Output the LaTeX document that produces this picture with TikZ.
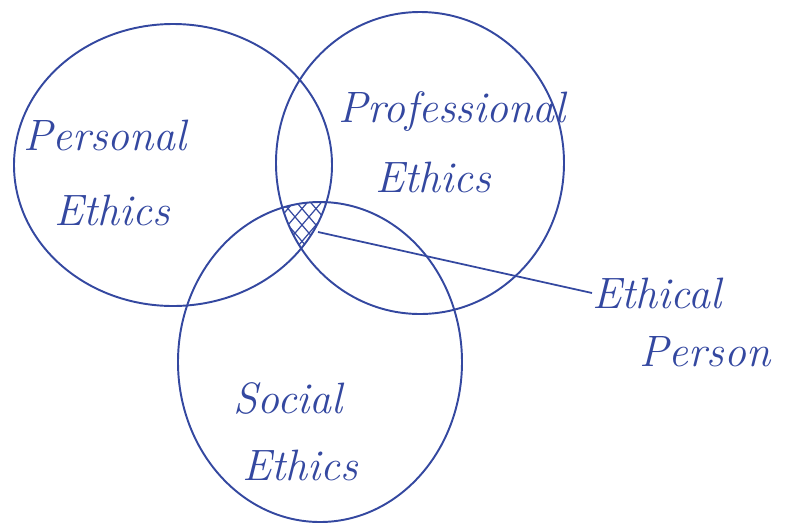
\documentclass[tikz,border=0pt]{standalone}
\usetikzlibrary{positioning}
\definecolor{ink}{RGB}{52,72,160}
\begin{document}
\begin{tikzpicture}[x=0.02cm,y=-0.02cm]
		\tikzstyle{ring} = [draw=ink, line width=1.1pt]
		\tikzstyle{hand} = [text=ink, font=\fontsize{25}{28}\selectfont\itshape, inner sep=0pt]
		\tikzstyle{hatch} = [draw=ink, line width=0.7pt]
		\tikzstyle{pointer} = [draw=ink, line width=1pt]
		
		\useasboundingbox (0,0) rectangle (796,525);
		\draw [ring] (173,165) ellipse [x radius=159, y radius=141];
		\draw [ring] (420,163) ellipse [x radius=144, y radius=151];
		\draw [ring] (320,362) ellipse [x radius=142, y radius=160];
		% shaded middle part
		\begin{scope}
		\clip (173,165) ellipse [x radius=159, y radius=141];
		\clip (420,163) ellipse [x radius=144, y radius=151];
		\clip (320,362) ellipse [x radius=142, y radius=160];
		\foreach \s in {230,244,...,360} {
			\draw [hatch] (\s,190) -- (\s+60,260);
			\draw [hatch] (\s+60,190) -- (\s,260);
		}
		\end{scope}
		\node (personal) [hand] at (105,135) {Personal};
		\node (personalE) [hand] at (112,210) {Ethics};
		\node (professional) [hand] at (452,112) {Professional};
		\node (professionalE) [hand] at (433,177) {Ethics};
		\node (social) [hand] at (288,398) {Social};
		\node (socialE) [hand] at (300,465) {Ethics};
		\node (ethical) [hand, anchor=west] at (592,293) {Ethical};
		\node (person) [hand] at (705,352) {Person};
		\coordinate (middle) at (318,232);
		\draw [pointer] (middle) -- (ethical.west);
		\end{tikzpicture}
\end{document}
